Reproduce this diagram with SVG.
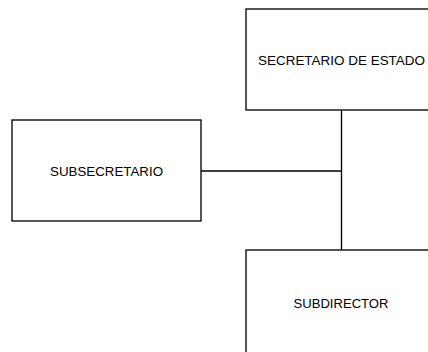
<svg xmlns="http://www.w3.org/2000/svg" width="428" height="352" viewBox="0 0 428 352">
<style>
.box{fill:#fff;stroke:#000;stroke-width:1.33}
.lbl{font-family:"Liberation Sans",Arial,sans-serif;font-size:12.5px;fill:#000;text-anchor:middle}
.conn{fill:none;stroke:#000;stroke-width:1.33}
</style>
<rect width="428" height="352" fill="#fff"/>
<g id="connectors">
<line class="conn" x1="341.5" y1="110" x2="341.5" y2="250"/>
<line class="conn" x1="201" y1="171" x2="341.5" y2="171"/>
</g>
<g id="secretario">
<rect class="box" x="246" y="9" width="200" height="101"/>
<text class="lbl" x="341.5" y="65" textLength="167" lengthAdjust="spacingAndGlyphs">SECRETARIO DE ESTADO</text>
</g>
<g id="subsecretario">
<rect class="box" x="12" y="120" width="189" height="101"/>
<text class="lbl" x="106.5" y="176" textLength="113" lengthAdjust="spacingAndGlyphs">SUBSECRETARIO</text>
</g>
<g id="subdirector">
<rect class="box" x="246" y="250" width="200" height="120"/>
<text class="lbl" x="341" y="308" textLength="95" lengthAdjust="spacingAndGlyphs">SUBDIRECTOR</text>
</g>
</svg>
